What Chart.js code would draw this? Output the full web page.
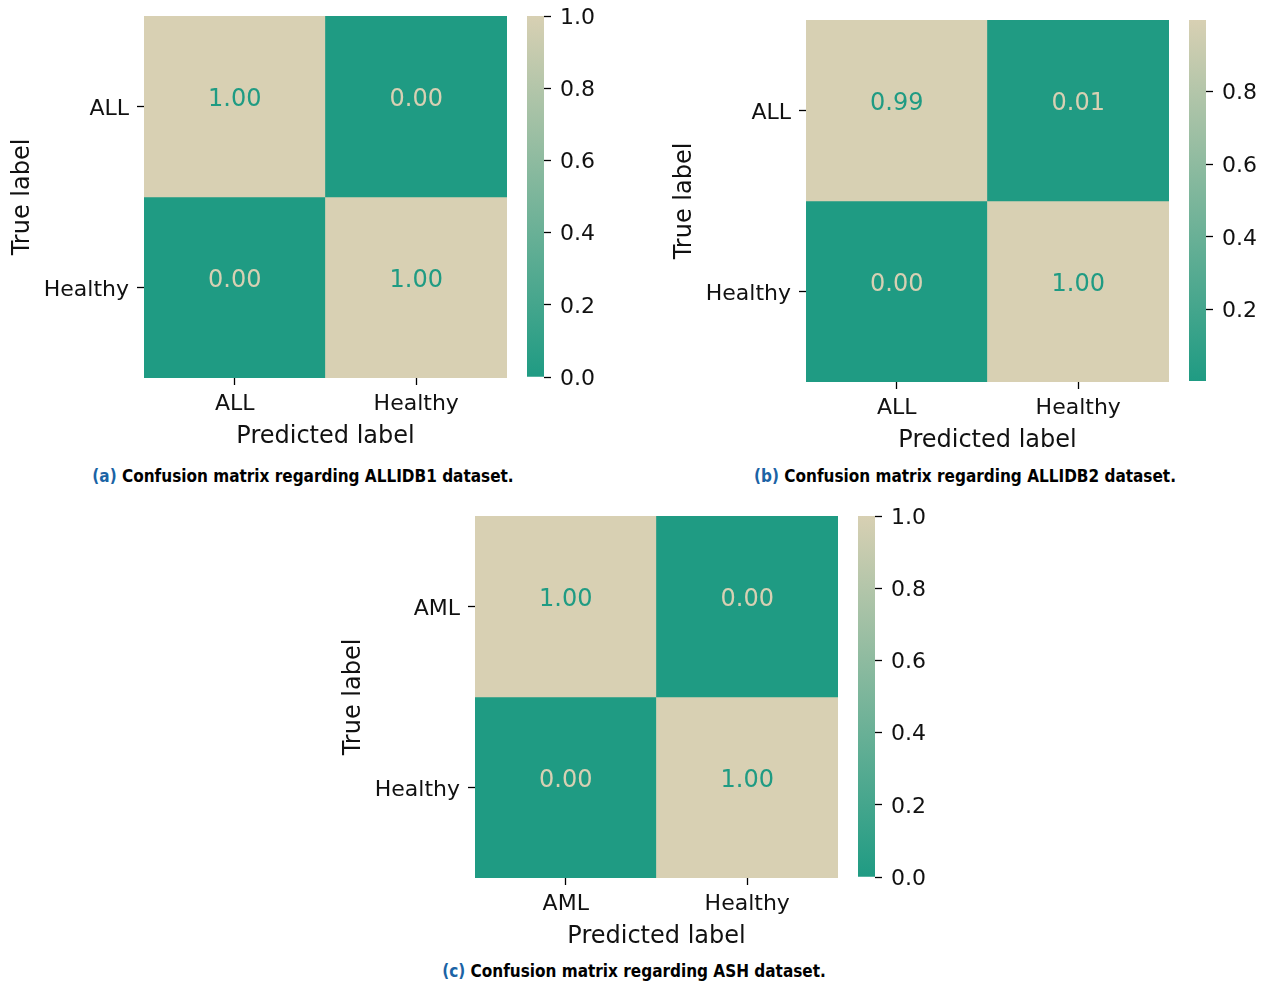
<!DOCTYPE html>
<html>
<head>
<meta charset="utf-8">
<script src="https://cdn.jsdelivr.net/npm/chart.js@4.4.0/dist/chart.umd.min.js"></script>
<style>
  html, body { margin: 0; padding: 0; background: #ffffff; }
  body { width: 1268px; height: 987px; position: relative; overflow: hidden; }
  .plot { position: absolute; }
  canvas { display: block; }
  .caption {
    position: absolute;
    transform: translateX(-50%);
    white-space: nowrap;
    font-family: "Liberation Sans Narrow", "DejaVu Sans Condensed", "DejaVu Sans", sans-serif;
    font-stretch: condensed;
    font-weight: bold;
    font-size: 17px;
    line-height: 22px;
    color: #000000;
  }
  .caption .tag { color: #1B63A5; }
</style>
</head>
<body>

<div class="caption" style="left:303px; top:465px;"><span class="tag">(a)</span> Confusion matrix regarding ALLIDB1 dataset.</div>
<div class="caption" style="left:965px; top:465px;"><span class="tag">(b)</span> Confusion matrix regarding ALLIDB2 dataset.</div>
<div class="caption" style="left:634px; top:960px;"><span class="tag">(c)</span> Confusion matrix regarding ASH dataset.</div>

<script>
// ---- Confusion matrices (rows = true label, columns = predicted label) ----
const classesA = ['ALL', 'Healthy'];
const matrixA = [
  [1.00, 0.00],
  [0.00, 1.00]
];
const colorbarTicksA = [0.0, 0.2, 0.4, 0.6, 0.8, 1.0];

const classesB = ['ALL', 'Healthy'];
const matrixB = [
  [0.992, 0.008],
  [0.004, 0.996]
];
const colorbarTicksB = [0.2, 0.4, 0.6, 0.8];

const classesC = ['AML', 'Healthy'];
const matrixC = [
  [1.00, 0.00],
  [0.00, 1.00]
];
const colorbarTicksC = [0.0, 0.2, 0.4, 0.6, 0.8, 1.0];

// ---- Styling ----
const LOW = [31, 155, 131];    // teal end of the colormap
const HIGH = [216, 208, 179];  // sand end of the colormap
const FONT = 'DejaVu Sans';
const TICK_FONT = { family: FONT, size: 22 };
const TITLE_FONT = { family: FONT, size: 24 };
const ANNOT_FONT = { family: FONT, size: 24 };

function rgb(c) { return 'rgb(' + c.map(Math.round).join(',') + ')'; }
function mix(t) {
  t = Math.max(0, Math.min(1, t));
  return rgb(LOW.map((l, k) => l + (HIGH[k] - l) * t));
}

// cell annotations, written in the contrasting colormap end
const annotate = {
  id: 'annotate',
  afterDatasetsDraw(chart, args, opts) {
    const ctx = chart.ctx;
    ctx.save();
    ctx.font = ANNOT_FONT.size + 'px "' + FONT + '"';
    ctx.textAlign = 'center';
    ctx.textBaseline = 'alphabetic';
    chart.data.datasets.forEach((ds, i) => {
      chart.getDatasetMeta(i).data.forEach((bar, j) => {
        const v = ds.values[j];
        const t = (v - opts.vmin) / (opts.vmax - opts.vmin);
        const p = bar.getCenterPoint();
        ctx.fillStyle = t > 0.5 ? rgb(LOW) : rgb(HIGH);
        ctx.fillText(v.toFixed(2), p.x, p.y - 1);
      });
    });
    ctx.restore();
  }
};

// keep the plot area exactly where the layout puts it (no label overhang padding)
function noOverhang(s) {
  s.paddingTop = 0; s.paddingBottom = 0; s.paddingLeft = 0; s.paddingRight = 0;
}

function panel(ox, oy, classes, matrix, cbTicks) {
  const flat = matrix.flat();
  const vmin = Math.min(...flat);
  const vmax = Math.max(...flat);
  const norm = v => (v - vmin) / (vmax - vmin);

  // heatmap
  const wrap = document.createElement('div');
  wrap.className = 'plot';
  wrap.style.left = ox + 'px';
  wrap.style.top = oy + 'px';
  const cv = document.createElement('canvas');
  cv.width = 520; cv.height = 452;
  cv.style.width = '520px'; cv.style.height = '452px';
  wrap.appendChild(cv);
  document.body.appendChild(wrap);

  new Chart(cv, {
    type: 'bar',
    data: {
      labels: classes,
      datasets: matrix.map((row, i) => ({
        values: row,
        data: row.map(() => [i, i + 1]),
        backgroundColor: row.map(v => mix(norm(v))),
        borderWidth: 0,
        barPercentage: 1,
        categoryPercentage: 1,
        grouped: false
      }))
    },
    options: {
      responsive: false,
      animation: false,
      events: [],
      layout: { padding: { left: 0, top: 16, right: 13, bottom: 0 } },
      plugins: {
        legend: { display: false },
        tooltip: { enabled: false },
        annotate: { vmin, vmax }
      },
      scales: {
        x: {
          type: 'category',
          position: 'bottom',
          offset: true,
          border: { display: false },
          grid: { offset: false, drawOnChartArea: false, drawTicks: true, tickLength: 7, tickColor: '#000', tickWidth: 1.3 },
          ticks: { font: TICK_FONT, color: '#111', padding: 6, maxRotation: 0, autoSkip: false },
          title: { display: true, text: 'Predicted label', font: TITLE_FONT, color: '#111', padding: { top: 0, bottom: 1 } },
          afterFit: s => { s.height = 74; noOverhang(s); }
        },
        y: {
          type: 'linear',
          reverse: true,
          min: 0,
          max: classes.length,
          border: { display: false },
          grid: { drawOnChartArea: false, drawTicks: true, tickLength: 7, tickColor: '#000', tickWidth: 1.3 },
          afterBuildTicks: s => { s.ticks = classes.map((_, i) => ({ value: i + 0.5 })); },
          ticks: {
            font: TICK_FONT, color: '#111', padding: 8, autoSkip: false, labelOffset: 3,
            callback: v => classes[Math.floor(v)]
          },
          title: { display: true, text: 'True label', font: TITLE_FONT, color: '#111', padding: { top: 8, bottom: 0 } },
          afterFit: s => { s.width = 144; noOverhang(s); }
        }
      }
    },
    plugins: [annotate]
  });

  // colorbar
  const cwrap = document.createElement('div');
  cwrap.className = 'plot';
  cwrap.style.left = (ox + 527) + 'px';
  cwrap.style.top = oy + 'px';
  const cc = document.createElement('canvas');
  cc.width = 90; cc.height = 450;
  cc.style.width = '90px'; cc.style.height = '450px';
  cwrap.appendChild(cc);
  document.body.appendChild(cwrap);

  new Chart(cc, {
    type: 'bar',
    data: {
      labels: [''],
      datasets: [{
        data: [[vmin, vmax]],
        borderWidth: 0,
        barPercentage: 1,
        categoryPercentage: 1,
        backgroundColor: ctx => {
          const area = ctx.chart.chartArea;
          if (!area) return rgb(LOW);
          const g = ctx.chart.ctx.createLinearGradient(0, area.bottom, 0, area.top);
          g.addColorStop(0, rgb(LOW));
          g.addColorStop(1, rgb(HIGH));
          return g;
        }
      }]
    },
    options: {
      responsive: false,
      animation: false,
      events: [],
      layout: { padding: { left: 0, top: 16, right: 0, bottom: 73 } },
      plugins: { legend: { display: false }, tooltip: { enabled: false } },
      scales: {
        x: { type: 'category', display: false, offset: true },
        y: {
          type: 'linear',
          position: 'right',
          min: vmin,
          max: vmax,
          border: { display: false },
          grid: { drawOnChartArea: false, drawTicks: true, tickLength: 7, tickColor: '#000', tickWidth: 1.3 },
          afterBuildTicks: s => { s.ticks = cbTicks.map(v => ({ value: v })); },
          ticks: { font: TICK_FONT, color: '#111', padding: 9, autoSkip: false, labelOffset: 2, callback: v => v.toFixed(1) },
          afterFit: s => { s.width = 73; noOverhang(s); }
        }
      }
    }
  });
}

panel(0, 0, classesA, matrixA, colorbarTicksA);
panel(662, 4, classesB, matrixB, colorbarTicksB);
panel(331, 500, classesC, matrixC, colorbarTicksC);
</script>
</body>
</html>
